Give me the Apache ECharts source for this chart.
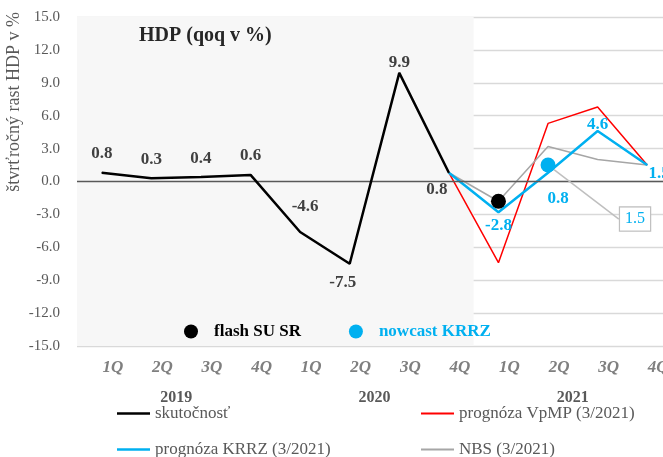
<!DOCTYPE html>
<html><head><meta charset="utf-8">
<script src="https://cdn.jsdelivr.net/npm/echarts@6/dist/echarts.min.js"></script>
<style>html,body{margin:0;padding:0;background:#fff}#c{width:663px;height:457px}</style>
</head><body><div id="c"></div>
<script>
const quarters = ['1Q','2Q','3Q','4Q','1Q','2Q','3Q','4Q','1Q','2Q','3Q','4Q'];
const years = ['2019','2020','2021'];
const yTicks = {min:-15, max:15, step:3};
const actual = [0.8,0.3,0.4,0.6,-4.6,-7.5,9.9,0.8,null,null,null,null];
const vpmp   = [null,null,null,null,null,null,null,0.8,-7.4,5.3,6.8,1.5];
const krrz   = [null,null,null,null,null,null,null,0.8,-2.8,0.8,4.6,1.5];
const nbs    = [null,null,null,null,null,null,null,0.8,-1.8,3.2,2.0,1.5];
const flash  = [null,null,null,null,null,null,null,null,-1.8,null,null,null];
const nowcast= [null,null,null,null,null,null,null,null,null,1.5,null,null];
const shadeRange = [0, 8];

const FONT = 'Liberation Serif';
const GRAY = '#595959';
const actualLbl = [
  {position:'top',distance:10},{position:'top',distance:10},{position:'top',distance:10},{position:'top',distance:10},
  {position:'top',distance:16,offset:[5,0]},{position:'bottom',distance:10,offset:[-7,0]},{position:'top',distance:1},{position:'bottom',distance:8,offset:[-12,0]}
];
const krrzLbl = [null,null,null,null,null,null,null,{show:false},
  {position:'bottom',distance:4},{position:'bottom',distance:17,offset:[10,0]},{position:'top',distance:0,offset:[0,3]},{position:'bottom',distance:0,offset:[12,0]}];

const mk = (arr, lbls) => arr.map((v,i)=> (v===null? null : (lbls && lbls[i] ? {value:v, label:lbls[i]} : v)));
const lineLegend = (name, left, top, h) => ({data:[name], left, top, icon:'rect', itemWidth:33, itemHeight:h, itemGap:0,
     textStyle:{fontFamily:FONT, fontSize:17, color:GRAY}});

const chart = echarts.init(document.getElementById('c'));
chart.setOption({
  animation:false,
  textStyle:{fontFamily:FONT},
  grid:{left:77, top:17, width:595, height:329, outerBoundsMode:'none', containLabel:false},
  title:{text:'HDP (qoq v %)', left:134, top:21, textStyle:{fontFamily:FONT, fontSize:20, fontWeight:'bold', color:'#262626'}},
  graphic:[{type:'text', left:5, top:12, rotation:Math.PI/2,
    style:{text:'štvrťročný rast HDP v %', font:'18px "Liberation Serif"', fill:GRAY}}],
  legend:[
    {data:[{name:'flash SU SR', textStyle:{color:'#000'}},{name:'nowcast KRRZ', textStyle:{color:'#00b0f0'}}],
     left:179, top:318, icon:'circle', itemWidth:14, itemHeight:14, itemGap:48,
     textStyle:{fontFamily:FONT, fontSize:17, fontWeight:'bold', padding:[0,0,0,11]}},
    lineLegend('skutočnosť', 112, 400, 2.5),
    lineLegend('prognóza KRRZ (3/2021)', 112, 436, 2.5),
    lineLegend('prognóza VpMP (3/2021)', 416, 400, 2),
    lineLegend('NBS (3/2021)', 416, 436, 2)
  ],
  xAxis:[
    {type:'category', data:quarters, boundaryGap:true, axisLine:{show:false}, axisTick:{show:false},
     axisLabel:{fontFamily:FONT, fontSize:17, fontStyle:'italic', fontWeight:'bold', color:'#7f7f7f', margin:13, padding:[0,0,0,22]}},
    {type:'category', data:years, boundaryGap:true, position:'bottom', offset:32, axisLine:{show:false}, axisTick:{show:false},
     axisLabel:{fontFamily:FONT, fontSize:16, fontWeight:'bold', color:GRAY, margin:12}},
    {type:'value', min:0, max:12, show:false}
  ],
  yAxis:{type:'value', min:yTicks.min, max:yTicks.max, interval:yTicks.step,
    axisLine:{show:false}, axisTick:{show:false},
    axisLabel:{fontFamily:FONT, fontSize:15, color:GRAY, margin:17, formatter:v=>v.toFixed(1)},
    splitLine:{lineStyle:{color:'#d9d9d9', width:1.3}}},
  series:[
    {name:'shade', type:'line', xAxisIndex:2, data:[], silent:true, z:0,
     markArea:{silent:true, itemStyle:{color:'#f7f7f7'}, data:[[{xAxis:shadeRange[0]},{xAxis:shadeRange[1]}]]},
     markLine:{silent:true, symbol:'none', label:{show:false}, lineStyle:{color:'#595959', width:1.3, type:'solid'}, data:[{yAxis:0}]}},
    {name:'prognóza VpMP (3/2021)', type:'line', data:vpmp, color:'#ff0000', symbol:'none', lineStyle:{width:1.5}, z:3},
    {name:'NBS (3/2021)', type:'line', data:nbs, color:'#a6a6a6', symbol:'none', lineStyle:{width:1.5}, z:3},
    {name:'prognóza KRRZ (3/2021)', type:'line', data:mk(krrz, krrzLbl), color:'#00b0f0', symbol:'circle', symbolSize:1, showSymbol:true, lineStyle:{width:2.5}, z:4,
     label:{show:true, color:'#00b0f0', fontFamily:FONT, fontSize:17, fontWeight:'bold', formatter:p=>p.value.toFixed(1)}},
    {name:'skutočnosť', type:'line', data:mk(actual, actualLbl), color:'#000000', symbol:'circle', symbolSize:1, showSymbol:true, lineStyle:{width:2.5}, z:5,
     label:{show:true, color:'#404040', fontFamily:FONT, fontSize:17, fontWeight:'bold', formatter:p=>p.value.toFixed(1)}},
    {name:'flash SU SR', type:'scatter', data:flash, color:'#000000', itemStyle:{opacity:1}, symbolSize:15, z:6},
    {name:'nowcast KRRZ', type:'scatter', data:nowcast, color:'#00b0f0', itemStyle:{opacity:1}, symbolSize:15, z:6,
     label:{show:true, position:'inside', color:'#00b0f0', fontFamily:FONT, fontSize:16, backgroundColor:'#fff', borderColor:'#bfbfbf', borderWidth:1.2, padding:[4,5,3,5], formatter:p=>p.value.toFixed(1)},
     labelLayout:{dx:87, dy:54}, labelLine:{show:true, lineStyle:{color:'#bfbfbf', width:1.5}}}
  ]
});
</script></body></html>
